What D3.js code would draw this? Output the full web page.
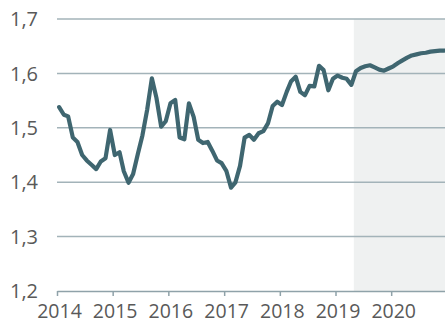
<!DOCTYPE html>
<html>
<head>
<meta charset="utf-8">
<script src="https://cdn.jsdelivr.net/npm/d3@7"></script>
<style>
  html, body { margin: 0; padding: 0; background: #ffffff; }
  svg { display: block; }
  text { font-family: "Open Sans", "Noto Sans", sans-serif; fill: #595959; }
</style>
</head>
<body>
<svg id="chart" width="445" height="329"></svg>
<script>
// Monthly series, January 2014 to December 2020
const startYear = 2014;
const values = [
  1.538, 1.524, 1.521, 1.482, 1.474, 1.450, 1.440, 1.432, 1.424, 1.438, 1.444, 1.496,
  1.450, 1.455, 1.420, 1.399, 1.415, 1.452, 1.486, 1.533, 1.591, 1.555, 1.502, 1.512,
  1.545, 1.551, 1.482, 1.479, 1.545, 1.520, 1.478, 1.472, 1.474, 1.458, 1.440, 1.435,
  1.421, 1.390, 1.399, 1.430, 1.482, 1.487, 1.478, 1.490, 1.494, 1.508, 1.540, 1.548,
  1.542, 1.566, 1.585, 1.594, 1.566, 1.560, 1.577, 1.576, 1.614, 1.606, 1.569, 1.590,
  1.596, 1.592, 1.590, 1.579, 1.604, 1.610, 1.613, 1.615, 1.611, 1.607, 1.605, 1.609,
  1.613, 1.619, 1.624, 1.629, 1.633, 1.635, 1.637, 1.638, 1.640, 1.641, 1.642, 1.642
];
const yTicks = [1.2, 1.3, 1.4, 1.5, 1.6, 1.7];
const xTickYears = [2014, 2015, 2016, 2017, 2018, 2019, 2020];
// Forecast period shaded from here to the end of the axis
const forecastStart = [2019, 4];

const data = values.map((v, i) => ({
  date: new Date(startYear + Math.floor(i / 12), i % 12, 15),
  value: v
}));

const svg = d3.select("#chart");
const plotLeft = 57, plotRight = 447, plotTop = 19, plotBottom = 291;

const x = d3.scaleTime()
  .domain([new Date(2014, 0, 1), new Date(2021, 0, 1)])
  .range([plotLeft, plotRight]);
const y = d3.scaleLinear()
  .domain([1.2, 1.7])
  .range([plotBottom, plotTop]);

const locale = d3.formatLocale({ decimal: ",", thousands: ".", grouping: [3], currency: ["", " €"] });
const fmt = locale.format(".1f");

// Forecast shading
const shadeX = x(new Date(forecastStart[0], forecastStart[1], 1));
svg.append("rect")
  .attr("x", shadeX)
  .attr("y", y(1.7))
  .attr("width", plotRight - shadeX)
  .attr("height", y(1.2) - y(1.7))
  .attr("fill", "#eff1f1");

// Horizontal gridlines
svg.append("g")
  .selectAll("line")
  .data(yTicks.slice(1))
  .join("line")
  .attr("x1", plotLeft)
  .attr("x2", plotRight)
  .attr("y1", d => y(d))
  .attr("y2", d => y(d))
  .attr("stroke", "#a3b3b9")
  .attr("stroke-width", 1.5);

// Y labels
svg.append("g")
  .selectAll("text")
  .data(yTicks)
  .join("text")
  .attr("x", 38)
  .attr("y", d => y(d))
  .attr("dy", "0.36em")
  .attr("text-anchor", "end")
  .attr("font-size", 20)
  .text(d => fmt(d));

// X axis
const xAxis = svg.append("g")
  .attr("transform", `translate(0,${plotBottom})`)
  .call(d3.axisBottom(x)
    .tickValues(xTickYears.map(yr => new Date(yr, 0, 1)))
    .tickFormat(d3.timeFormat("%Y"))
    .tickSize(5)
    .tickPadding(8)
    .tickSizeOuter(0));
xAxis.select(".domain").attr("stroke", "#8fa2a9").attr("stroke-width", 1.5);
xAxis.selectAll(".tick line").attr("stroke", "#8fa2a9").attr("stroke-width", 1.5);
xAxis.selectAll(".tick text")
  .attr("font-size", 19.5)
  .attr("dx", "2")
  .attr("font-family", "'Open Sans', 'Noto Sans', sans-serif")
  .attr("fill", "#595959");

// Series line
const line = d3.line()
  .x(d => x(d.date))
  .y(d => y(d.value))
  .curve(d3.curveLinear);

svg.append("path")
  .datum(data)
  .attr("d", line)
  .attr("fill", "none")
  .attr("stroke", "#3f6670")
  .attr("stroke-width", 4.2)
  .attr("stroke-linejoin", "round")
  .attr("stroke-linecap", "round");
</script>
</body>
</html>
